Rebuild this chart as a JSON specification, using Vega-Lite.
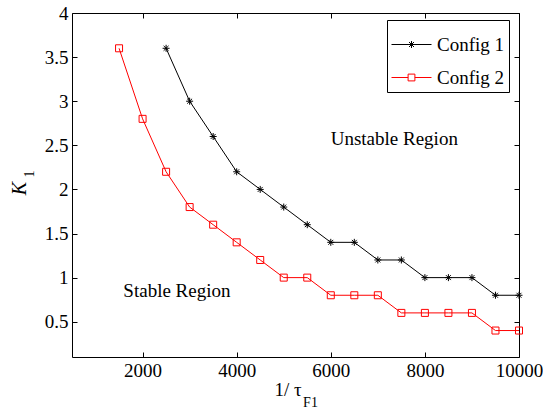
{
  "$schema": "https://vega.github.io/schema/vega-lite/v6.json",
  "width": 447,
  "height": 344,
  "autosize": "none",
  "padding": {"left": 72, "top": 13, "right": 24, "bottom": 52},
  "background": "white",
  "config": {
    "font": "Liberation Serif",
    "view": {"stroke": "black", "strokeWidth": 1},
    "axis": {
      "grid": false,
      "domain": false,
      "tickColor": "black",
      "tickWidth": 1,
      "tickSize": -5,
      "labelPadding": 9,
      "labelFont": "Liberation Serif",
      "labelFontSize": 19,
      "labelColor": "black",
      "labelFlush": false,
      "labelOverlap": false,
      "titleFont": "Liberation Serif",
      "titleColor": "black",
      "titleFontWeight": "normal"
    }
  },
  "datasets": {
    "series": [
      {"x": 2500, "k": 3.6, "config": "Config 1"},
      {"x": 3000, "k": 3.0, "config": "Config 1"},
      {"x": 3500, "k": 2.6, "config": "Config 1"},
      {"x": 4000, "k": 2.2, "config": "Config 1"},
      {"x": 4500, "k": 2.0, "config": "Config 1"},
      {"x": 5000, "k": 1.8, "config": "Config 1"},
      {"x": 5500, "k": 1.6, "config": "Config 1"},
      {"x": 6000, "k": 1.4, "config": "Config 1"},
      {"x": 6500, "k": 1.4, "config": "Config 1"},
      {"x": 7000, "k": 1.2, "config": "Config 1"},
      {"x": 7500, "k": 1.2, "config": "Config 1"},
      {"x": 8000, "k": 1.0, "config": "Config 1"},
      {"x": 8500, "k": 1.0, "config": "Config 1"},
      {"x": 9000, "k": 1.0, "config": "Config 1"},
      {"x": 9500, "k": 0.8, "config": "Config 1"},
      {"x": 10000, "k": 0.8, "config": "Config 1"},
      {"x": 1500, "k": 3.6, "config": "Config 2"},
      {"x": 2000, "k": 2.8, "config": "Config 2"},
      {"x": 2500, "k": 2.2, "config": "Config 2"},
      {"x": 3000, "k": 1.8, "config": "Config 2"},
      {"x": 3500, "k": 1.6, "config": "Config 2"},
      {"x": 4000, "k": 1.4, "config": "Config 2"},
      {"x": 4500, "k": 1.2, "config": "Config 2"},
      {"x": 5000, "k": 1.0, "config": "Config 2"},
      {"x": 5500, "k": 1.0, "config": "Config 2"},
      {"x": 6000, "k": 0.8, "config": "Config 2"},
      {"x": 6500, "k": 0.8, "config": "Config 2"},
      {"x": 7000, "k": 0.8, "config": "Config 2"},
      {"x": 7500, "k": 0.6, "config": "Config 2"},
      {"x": 8000, "k": 0.6, "config": "Config 2"},
      {"x": 8500, "k": 0.6, "config": "Config 2"},
      {"x": 9000, "k": 0.6, "config": "Config 2"},
      {"x": 9500, "k": 0.4, "config": "Config 2"},
      {"x": 10000, "k": 0.4, "config": "Config 2"}
    ],
    "notes": [
      {"x": 7350, "k": 2.5, "label": "Unstable Region"},
      {"x": 2730, "k": 0.78, "label": "Stable Region"}
    ]
  },
  "layer": [
    {
      "data": {"name": "series"},
      "mark": {"type": "line", "strokeWidth": 1},
      "encoding": {
        "x": {
          "field": "x", "type": "quantitative",
          "scale": {"domain": [500, 10000], "nice": false, "zero": false},
          "axis": {
            "orient": "bottom",
            "values": [2000, 4000, 6000, 8000, 10000],
            "format": "d",
            "title": "1/ τ",
            "titleFontSize": 19,
            "titleX": 215.5,
            "titleY": 38,
            "titleAlign": "center",
            "titleBaseline": "alphabetic"
          }
        },
        "y": {
          "field": "k", "type": "quantitative",
          "scale": {"domain": [0.1, 4], "nice": false, "zero": false},
          "axis": {
            "orient": "left",
            "values": [0.5, 1, 1.5, 2, 2.5, 3, 3.5, 4],
            "format": "~g",
            "title": "K",
            "titleFontSize": 20,
            "titleFontStyle": "italic",
            "titleAngle": 270,
            "titleX": -53,
            "titleY": 175,
            "titleAlign": "center",
            "titleBaseline": "middle"
          }
        },
        "color": {
          "field": "config", "type": "nominal",
          "scale": {"domain": ["Config 1", "Config 2"], "range": ["#000000", "#ff0000"]},
          "legend": {
            "title": null,
            "orient": "none",
            "legendX": 315,
            "legendY": 7,
            "direction": "vertical",
            "strokeColor": "black",
            "fillColor": "white",
            "padding": 4,
            "cornerRadius": 0,
            "labelFont": "Liberation Serif",
            "labelFontSize": 19,
            "labelColor": "black",
            "labelOffset": 5,
            "rowPadding": 2,
            "symbolSize": 1600,
            "symbolStrokeWidth": 1,
            "symbolFillColor": "transparent",
            "encode": {
              "symbols": {
                "update": {
                  "shape": {"signal": "datum.value === 'Config 1' ? 'M-1,0L1,0M0,-0.175L0,0.175M-0.125,-0.125L0.125,0.125M-0.125,0.125L0.125,-0.125' : 'M-1,0L-0.17,0M0.17,0L1,0M-0.17,-0.17L0.17,-0.17L0.17,0.17L-0.17,0.17Z'"},
                  "fill": {"value": "transparent"},
                  "strokeWidth": {"value": 1}
                }
              }
            }
          }
        }
      }
    },
    {
      "data": {"name": "series"},
      "transform": [{"filter": "datum.config === 'Config 1'"}],
      "mark": {"type": "point", "filled": false, "strokeWidth": 1, "size": 49, "opacity": 1, "color": "#000000", "shape": "M-1,0L1,0M0,-1L0,1M-0.7,-0.7L0.7,0.7M-0.7,0.7L0.7,-0.7"},
      "encoding": {
        "x": {
          "field": "x", "type": "quantitative",
          "scale": {"domain": [500, 10000], "nice": false, "zero": false},
          "axis": {
            "orient": "top",
            "values": [2000, 4000, 6000, 8000, 10000],
            "labels": false,
            "title": "F1",
            "titleFontSize": 14,
            "titleX": 238,
            "titleY": 393,
            "titleAlign": "center",
            "titleBaseline": "alphabetic"
          }
        },
        "y": {
          "field": "k", "type": "quantitative",
          "scale": {"domain": [0.1, 4], "nice": false, "zero": false},
          "axis": {
            "orient": "right",
            "values": [0.5, 1, 1.5, 2, 2.5, 3, 3.5, 4],
            "labels": false,
            "title": "1",
            "titleFontSize": 14,
            "titleAngle": 270,
            "titleX": -490,
            "titleY": 160.5,
            "titleAlign": "center",
            "titleBaseline": "middle"
          }
        }
      }
    },
    {
      "data": {"name": "series"},
      "transform": [{"filter": "datum.config === 'Config 2'"}],
      "mark": {"type": "point", "filled": false, "strokeWidth": 1, "size": 49, "opacity": 1, "color": "#ff0000", "shape": "square"},
      "encoding": {
        "x": {"field": "x", "type": "quantitative", "scale": {"domain": [500, 10000], "nice": false, "zero": false}, "axis": null},
        "y": {"field": "k", "type": "quantitative", "scale": {"domain": [0.1, 4], "nice": false, "zero": false}, "axis": null}
      }
    },
    {
      "data": {"name": "notes"},
      "mark": {"type": "text", "font": "Liberation Serif", "fontSize": 19, "align": "center", "baseline": "alphabetic", "color": "black"},
      "encoding": {
        "x": {"field": "x", "type": "quantitative", "scale": {"domain": [500, 10000], "nice": false, "zero": false}, "axis": null},
        "y": {"field": "k", "type": "quantitative", "scale": {"domain": [0.1, 4], "nice": false, "zero": false}, "axis": null},
        "text": {"field": "label", "type": "nominal"}
      }
    }
  ],
  "resolve": {"axis": {"x": "independent", "y": "independent"}}
}
